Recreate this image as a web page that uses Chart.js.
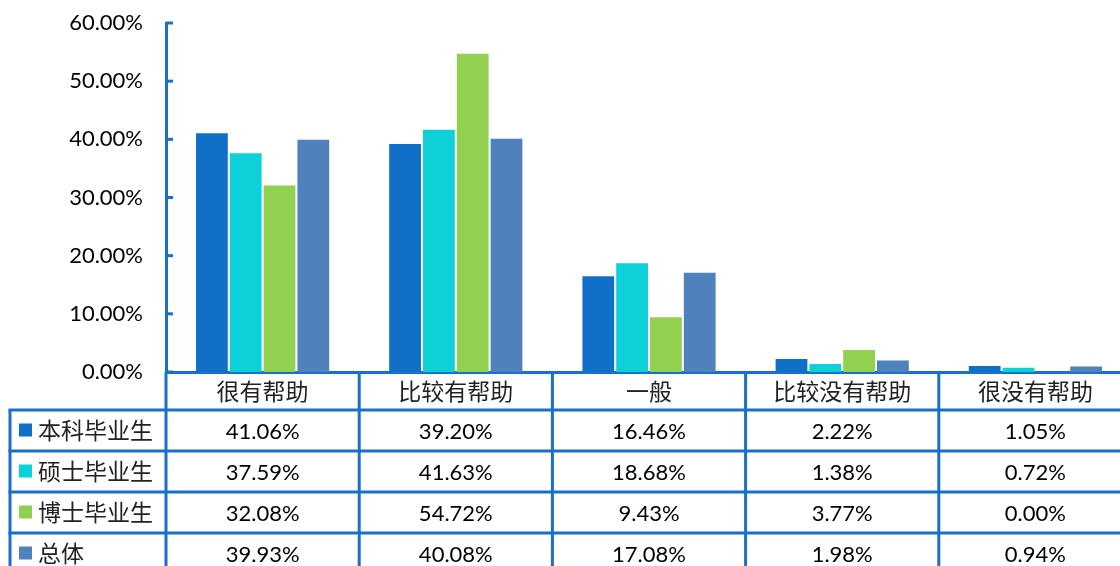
<!DOCTYPE html>
<html>
<head>
<meta charset="utf-8">
<title>帮助程度</title>
<script src="https://cdn.jsdelivr.net/npm/chart.js@4.4.1/dist/chart.umd.min.js"></script>
<style>
    html, body { margin: 0; padding: 0; background: #fff; overflow: hidden; }
    #helpChart { display: block; }
</style>
</head>
<body>
<canvas id="helpChart" width="1132" height="576"></canvas>
<script>
// categories and series values (percent)
const categories = ["很有帮助", "比较有帮助", "一般", "比较没有帮助", "很没有帮助"];
const seriesNames = ["本科毕业生", "硕士毕业生", "博士毕业生", "总体"];
const undergrad = [41.06, 39.20, 16.46, 2.22, 1.05];
const master = [37.59, 41.63, 18.68, 1.38, 0.72];
const doctor = [32.08, 54.72, 9.43, 3.77, 0.00];
const overall = [39.93, 40.08, 17.08, 1.98, 0.94];
const yTicks = [0, 10, 20, 30, 40, 50, 60];

const colors = ["#106fc6", "#0dd0d8", "#92d050", "#4f81bd"];
const lineColor = "#1870c8";
const latin = "Lato, 'Noto Sans', sans-serif";
const cjk = "'Noto Sans CJK SC', sans-serif";

const allSeries = [undergrad, master, doctor, overall];

// draws the data table under the x axis plus the inside tick marks on y
const dataTable = {
    id: "dataTable",
    afterDraw(chart) {
        const ctx = chart.ctx;
        const x = chart.scales.x;
        const y = chart.scales.y;
        const n = categories.length;
        const w = x.getPixelForValue(1) - x.getPixelForValue(0);
        const bounds = [];
        for (let i = 0; i <= n; i++) {
            bounds.push(x.getPixelForValue(0) - w / 2 + i * w);
        }
        const rowH = 41;
        const top = x.bottom;
        const left = 10;
        const right = chart.width;
        const bottom = top + rowH * seriesNames.length;

        ctx.save();
        ctx.strokeStyle = lineColor;
        ctx.lineWidth = 3;

        // y tick marks pointing into the plot
        yTicks.forEach((t) => {
            const py = y.getPixelForValue(t);
            ctx.beginPath();
            ctx.moveTo(y.right, py);
            ctx.lineTo(y.right + 7, py);
            ctx.stroke();
        });

        // horizontal rules
        for (let r = 0; r <= seriesNames.length; r++) {
            const py = top + r * rowH;
            ctx.beginPath();
            ctx.moveTo(left - 1.5, py);
            ctx.lineTo(right, py);
            ctx.stroke();
        }
        // vertical rules
        ctx.beginPath();
        ctx.moveTo(left, top);
        ctx.lineTo(left, bottom);
        ctx.stroke();
        bounds.forEach((bx) => {
            ctx.beginPath();
            ctx.moveTo(bx, x.top);
            ctx.lineTo(bx, bottom);
            ctx.stroke();
        });

        // legend keys and values
        ctx.textBaseline = "middle";
        seriesNames.forEach((name, r) => {
            const cy = top + r * rowH + rowH / 2;
            ctx.fillStyle = colors[r];
            ctx.fillRect(19, cy - 7, 13, 13);
            ctx.fillStyle = "#222";
            ctx.textAlign = "left";
            ctx.font = "23px " + cjk;
            ctx.fillText(name, 38, cy);
            ctx.fillStyle = "#000";
            ctx.textAlign = "center";
            ctx.font = "22px " + latin;
            allSeries[r].forEach((v, i) => {
                ctx.fillText(v.toFixed(2) + "%", x.getPixelForValue(i), cy + 1);
            });
        });
        ctx.restore();
    },
};

const ctx = document.getElementById("helpChart").getContext("2d");

const chart = new Chart(ctx, {
    type: "bar",
    data: {
        labels: categories,
        datasets: seriesNames.map((name, i) => ({
            label: name,
            data: allSeries[i],
            backgroundColor: colors[i],
            borderWidth: 0,
            barPercentage: 0.94,
            categoryPercentage: 0.7,
        })),
    },
    options: {
        responsive: false,
        animation: false,
        layout: { padding: { top: 23, left: 0, right: 0, bottom: 166 } },
        plugins: {
            legend: { display: false },
            tooltip: { enabled: false },
        },
        scales: {
            x: {
                grid: { display: false, drawTicks: false },
                border: { display: true, color: lineColor, width: 3 },
                ticks: {
                    color: "#222",
                    font: { family: cjk, size: 23 },
                    padding: 5,
                    autoSkip: false,
                    maxRotation: 0,
                },
                afterFit: (scale) => {
                    scale.height = 38;
                    scale.paddingLeft = 0;
                    scale.paddingRight = 0;
                },
            },
            y: {
                min: 0,
                max: 60,
                grid: { display: false, drawTicks: false },
                border: { display: true, color: lineColor, width: 3 },
                afterBuildTicks: (scale) => {
                    scale.ticks = yTicks.map((v) => ({ value: v }));
                },
                ticks: {
                    color: "#000",
                    font: { family: latin, size: 22 },
                    padding: 23,
                    callback: (v) => v.toFixed(2) + "%",
                },
                afterFit: (scale) => {
                    scale.width = 166;
                    scale.paddingTop = 0;
                    scale.paddingBottom = 0;
                },
            },
        },
    },
    plugins: [dataTable],
});
</script>
</body>
</html>
